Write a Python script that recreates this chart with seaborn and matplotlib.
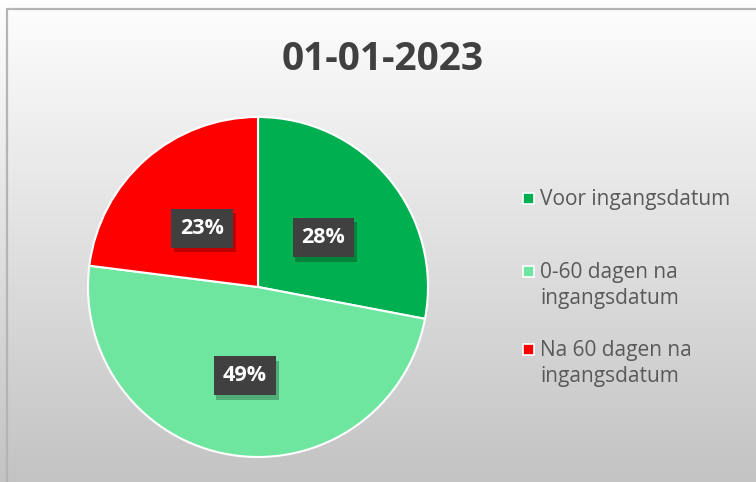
import textwrap
import numpy as np
import matplotlib
matplotlib.use("Agg")
import matplotlib.pyplot as plt
import matplotlib.patches as mpatches
import matplotlib.patheffects as pe
import seaborn as sns

# ---- data ----
title = "01-01-2023"
categories = ["Voor ingangsdatum", "0-60 dagen na ingangsdatum", "Na 60 dagen na ingangsdatum"]
values = [28, 49, 23]
colors = ["#00B050", "#6EE6A0", "#FF0000"]

sns.set_theme(style="white")
plt.rcParams["font.family"] = ["Open Sans", "DejaVu Sans"]

W, H = 756, 482
fig = plt.figure(figsize=(W / 100, H / 100), dpi=100)

# background gradient
bg = fig.add_axes([0, 0, 1, 1], zorder=0)
grad = np.linspace(0, 1, 256)[:, None]
top = np.array([0.995, 0.995, 0.995])
bot = np.array([0.765, 0.765, 0.765])
img = top[None, None, :] * (1 - grad[:, :, None]) + bot[None, None, :] * grad[:, :, None]
bg.imshow(img, aspect="auto", extent=[0, 1, 0, 1], origin="upper")
bg.set_xlim(0, 1)
bg.set_ylim(0, 1)
bg.axis("off")
# frame
bg.plot([7 / W, 7 / W, 1], [0, 1 - 9 / H, 1 - 9 / H], color="#b4b4b4", lw=1.6)

# title
fig.text(383 / W, 1 - 60 / H, title, ha="center", va="center",
         fontsize=28, fontweight="bold", color="#404040")

# pie
cx, cy, r = 258, 287, 170
ax = fig.add_axes([(cx - r) / W, (H - cy - r) / H, 2 * r / W, 2 * r / H], zorder=1)
wedges, texts, autotexts = ax.pie(
    values, colors=colors, startangle=90, counterclock=False,
    autopct=lambda p: f"{p:.0f}%", pctdistance=0.5,
    wedgeprops=dict(edgecolor="white", linewidth=1.5),
    textprops=dict(color="white", fontsize=15.5, fontweight="bold"),
)
for t in autotexts:
    x, y = t.get_position()
    t.set_position((x, y - 5 / r))
    t.set_bbox(dict(boxstyle="square,pad=0.42", facecolor="#404040", edgecolor="none"))
    t.get_bbox_patch().set_path_effects(
        [pe.SimplePatchShadow(offset=(2, -3), shadow_rgbFace="black", alpha=0.25), pe.Normal()])
ax.set_xlim(-1, 1)
ax.set_ylim(-1, 1)
ax.set_aspect("equal")
ax.axis("off")

# legend
legend_y = [199, 272, 350]
for lab, col, y in zip(categories, colors, legend_y):
    fig.patches.append(mpatches.Rectangle(((523) / W, 1 - (y + 5) / H), 11 / W, 11 / H,
                                          transform=fig.transFigure, facecolor=col,
                                          edgecolor="white", linewidth=1.2, zorder=3))
    fig.text(540 / W, 1 - (y - 10) / H, textwrap.fill(lab, 18), ha="left", va="top",
             fontsize=15, color="#595959", linespacing=1.32)

fig.savefig("out.png", dpi=100)
